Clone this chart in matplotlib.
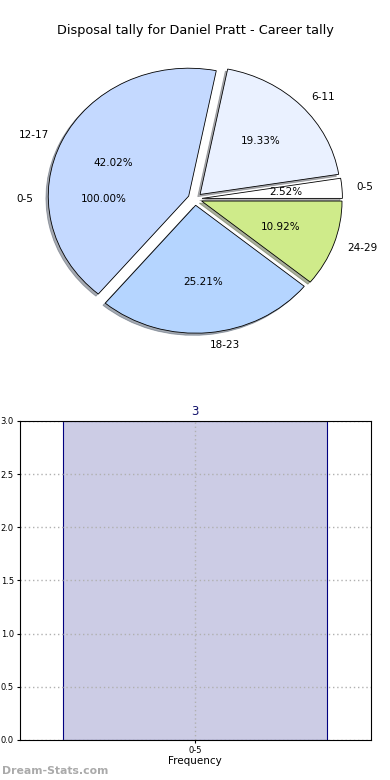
import matplotlib
matplotlib.use('Agg')
import matplotlib.pyplot as plt

# pie data (career tally, share of games per disposal bracket)
pie_labels = ['0-5', '6-11', '12-17', '18-23', '24-29']
pie_values = [2.52, 19.33, 42.02, 25.21, 10.92]
pie_colors = ['#ffffff', '#eaf1ff', '#c4d9ff', '#b5d5ff', '#cfeb8a']

# leftover single-slice pie that shows through as text
over_labels = ['0-5']
over_values = [100.0]

# bar data
bar_labels = ['0-5']
bar_values = [3]

fig = plt.figure(figsize=(3.9, 7.8), dpi=100)

#1. pie
ax1 = fig.add_axes([0.05, 0.54, 0.9, 0.41])
w0, t0, a0 = ax1.pie(over_values, labels=over_labels, explode=[0.05], autopct='%1.2f%%',
                     startangle=0, textprops={'fontsize': 7.5})
for w in w0:
    w.set_visible(False)
wedges, texts, autotexts = ax1.pie(pie_values, labels=pie_labels, colors=pie_colors,
                                   explode=[0.05] * len(pie_values), autopct='%1.2f%%',
                                   shadow={'ox': -0.012, 'oy': -0.012, 'shade': 0.6},
                                   startangle=0,
                                   wedgeprops={'edgecolor': 'black', 'linewidth': 0.6},
                                   textprops={'fontsize': 7.5})
ax1.set_aspect('auto')
ax1.set_xlim(-1.25, 1.25)
ax1.set_ylim(-1.25, 1.25)
ax1.set_title('Disposal tally for Daniel Pratt - Career tally', fontsize=9.3, pad=3.5)

#2. bar
ax2 = fig.add_axes([0.05, 0.0513, 0.9, 0.409])
x = range(len(bar_values))
bars = ax2.bar(x, bar_values, width=0.6, color='#ccccE5', edgecolor='#000080', linewidth=0.8)
for b, v in zip(bars, bar_values):
    ax2.text(b.get_x() + b.get_width() / 2, v + 0.03, str(v), ha='center', va='bottom',
             fontsize=8.5, color='#10106a')
ax2.set_xlim(-0.4, 0.4)
ax2.set_ylim(0, 3)
ax2.set_xticks(list(x))
ax2.set_xticklabels(bar_labels)
ax2.set_yticks([0, 0.5, 1.0, 1.5, 2.0, 2.5, 3.0])
ax2.set_yticklabels(['0.0', '0.5', '1.0', '1.5', '2.0', '2.5', '3.0'])
ax2.tick_params(labelsize=6, length=2, pad=2)
ax2.grid(True, linestyle=(0, (1, 2)), color='#b0b0b0', linewidth=1)
for s in ax2.spines.values():
    s.set_zorder(4)
ax2.set_xlabel('Frequency', fontsize=7.5, labelpad=1)

fig.text(0.005, 0.008, 'Dream-Stats.com', fontsize=7.8, color='#aaaaaa', fontweight='bold')

fig.savefig('out.png', dpi=100)
